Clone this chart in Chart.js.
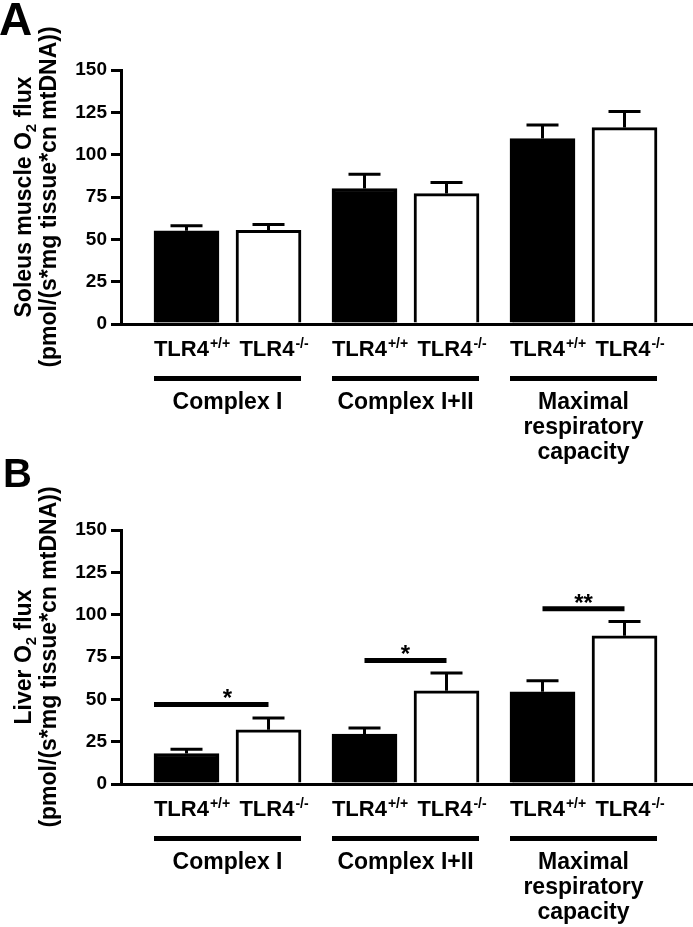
<!DOCTYPE html>
<html>
<head>
<meta charset="utf-8">
<script src="https://cdn.jsdelivr.net/npm/chart.js@4.4.1/dist/chart.umd.min.js"></script>
<style>
  html, body { margin: 0; padding: 0; background: #fff; }
  body { position: relative; width: 693px; height: 927px; overflow: hidden; }
  canvas { position: absolute; left: 0; }
  #chartA { top: 0; }
  #chartB { top: 455px; }
</style>
</head>
<body>
<canvas id="chartA" width="693" height="470"></canvas>
<canvas id="chartB" width="693" height="472"></canvas>
<script>
// --- data ---
const groupLabels = [['Complex I'], ['Complex I+II'], ['Maximal', 'respiratory', 'capacity']];
const genotypes = [{ base: 'TLR4', sup: '+/+' }, { base: 'TLR4', sup: '-/-' }];
const yMax = 150;
const yStep = 25;

const soleusWT = [55, 80, 109.5];
const soleusWTErr = [3, 8.5, 8];
const soleusKO = [55.3, 77, 116];
const soleusKOErr = [3.5, 6.5, 9.5];

const liverWT = [18, 29.5, 54.5];
const liverWTErr = [2.5, 3.5, 6.5];
const liverKO = [32, 55, 87.5];
const liverKOErr = [7, 10.5, 8.5];

const liverSig = [
    { group: 0, level: 47, mark: '*', fromEdge: true },
    { group: 1, level: 73, mark: '*' },
    { group: 2, level: 103.5, mark: '**' },
];

// --- layout ---
const FONT = '"Liberation Sans", Arial, Helvetica, sans-serif';
const PAIR = 0.4607;             // distance between the two bars of a group, in group units
const X_MIN = -0.368, X_MAX = 2.8455;

function font(size) { return `bold ${size}px ${FONT}`; }

function drawGenotype(ctx, cx, y, g) {
    ctx.font = font(22);
    const wb = ctx.measureText(g.base).width;
    ctx.font = font(14);
    const ws = ctx.measureText(g.sup).width;
    const x0 = cx - (wb + ws) / 2 + 5;
    ctx.textAlign = 'left';
    ctx.font = font(22);
    ctx.fillText(g.base, x0, y);
    ctx.font = font(14);
    ctx.fillText(g.sup, x0 + wb + 1, y - 8);
}

function drawYTitle(ctx, xBase, yc, parts) {
    // parts: [text, isSub]
    ctx.save();
    ctx.translate(xBase, yc);
    ctx.rotate(-Math.PI / 2);
    ctx.textAlign = 'left';
    let total = 0;
    parts.forEach(([t, sub]) => { ctx.font = font(sub ? 15 : 23); total += ctx.measureText(t).width; });
    let x = -total / 2;
    parts.forEach(([t, sub]) => {
        ctx.font = font(sub ? 15 : 23);
        ctx.fillText(t, x, sub ? 5 : 0);
        x += ctx.measureText(t).width;
    });
    ctx.restore();
}

function makePanel(id, cfg) {
    const extras = {
        id: 'extras' + id,
        afterDatasetsDraw(chart) {
            const { ctx, scales: { y } } = chart;
            ctx.save();
            ctx.strokeStyle = '#000';
            ctx.lineWidth = 3;
            chart.data.datasets.forEach((ds, i) => {
                chart.getDatasetMeta(i).data.forEach((bar, j) => {
                    const top = y.getPixelForValue(ds.data[j].y + ds.err[j]);
                    ctx.beginPath();
                    ctx.moveTo(bar.x, bar.y);
                    ctx.lineTo(bar.x, top);
                    ctx.moveTo(bar.x - 16, top);
                    ctx.lineTo(bar.x + 16, top);
                    ctx.stroke();
                });
            });
            ctx.restore();
        },
        afterDraw(chart) {
            const { ctx, chartArea, scales: { x, y } } = chart;
            const axisY = chartArea.bottom;
            const wt = chart.getDatasetMeta(0).data;
            const ko = chart.getDatasetMeta(1).data;
            ctx.save();
            ctx.fillStyle = '#000';
            ctx.strokeStyle = '#000';
            ctx.textBaseline = 'alphabetic';

            // panel letter
            ctx.textAlign = 'left';
            ctx.font = font(cfg.letterSize);
            ctx.fillText(cfg.letter, cfg.letterX, cfg.letterY);

            // y title
            const yc = (chartArea.top + chartArea.bottom) / 2;
            drawYTitle(ctx, 31, yc, cfg.title);
            drawYTitle(ctx, 56, yc, [['(pmol/(s*mg tissue*cn mtDNA))', false]]);

            groupLabels.forEach((lines, g) => {
                const c0 = x.getPixelForValue(g);
                const c1 = x.getPixelForValue(g + PAIR);
                drawGenotype(ctx, c0, axisY + 32, genotypes[0]);
                drawGenotype(ctx, c1, axisY + 32, genotypes[1]);

                ctx.lineWidth = 5;
                ctx.beginPath();
                ctx.moveTo(c0 - wt[g].width / 2, axisY + 54.5);
                ctx.lineTo(c1 + ko[g].width / 2, axisY + 54.5);
                ctx.stroke();

                ctx.textAlign = 'center';
                ctx.font = font(23);
                lines.forEach((t, k) => ctx.fillText(t, (c0 + c1) / 2, axisY + 85 + k * 25));
            });

            (cfg.sig || []).forEach(s => {
                const c0 = x.getPixelForValue(s.group);
                const c1 = x.getPixelForValue(s.group + PAIR);
                const ly = y.getPixelForValue(s.level);
                ctx.lineWidth = 5;
                ctx.beginPath();
                ctx.moveTo(s.fromEdge ? c0 - wt[s.group].width / 2 : c0, ly);
                ctx.lineTo(c1, ly);
                ctx.stroke();
                ctx.textAlign = 'center';
                ctx.font = font(24);
                ctx.fillText(s.mark, (c0 + c1) / 2, ly + 2);
            });
            ctx.restore();
        },
    };

    return new Chart(document.getElementById(id), {
        type: 'bar',
        data: {
            datasets: [
                {
                    label: 'TLR4+/+', data: cfg.wt.map((v, g) => ({ x: g, y: v })), err: cfg.wtErr,
                    backgroundColor: '#000', borderColor: '#000', borderWidth: 3, barThickness: 65, grouped: false,
                },
                {
                    label: 'TLR4-/-', data: cfg.ko.map((v, g) => ({ x: g + PAIR, y: v })), err: cfg.koErr,
                    backgroundColor: '#fff', borderColor: '#000', borderWidth: 3, barThickness: 65, grouped: false,
                },
            ],
        },
        options: {
            responsive: false,
            animation: false,
            layout: { padding: { top: cfg.top, left: 0, right: 0, bottom: 0 } },
            plugins: { legend: { display: false }, tooltip: { enabled: false } },
            scales: {
                x: {
                    type: 'linear', min: X_MIN, max: X_MAX, offset: false,
                    ticks: { display: false },
                    grid: { display: false },
                    border: { display: true, width: 3, color: '#000' },
                    afterFit: (s) => { s.height = cfg.below; },
                },
                y: {
                    min: 0, max: yMax,
                    ticks: { stepSize: yStep, color: '#000', padding: 4, font: { family: FONT, size: 19, weight: 'bold' } },
                    grid: { drawOnChartArea: false, color: '#000', lineWidth: 3, tickLength: 10 },
                    border: { display: true, width: 3, color: '#000' },
                    afterFit: (s) => { s.width = 121; },
                },
            },
        },
        plugins: [extras],
    });
}

makePanel('chartA', {
    letter: 'A', letterSize: 46, letterX: -1, letterY: 35,
    title: [['Soleus muscle O', false], ['2', true], [' flux', false]],
    wt: soleusWT, wtErr: soleusWTErr, ko: soleusKO, koErr: soleusKOErr,
    top: 70, below: 146,
});

makePanel('chartB', {
    letter: 'B', letterSize: 40, letterX: 3, letterY: 32,
    title: [['Liver O', false], ['2', true], [' flux', false]],
    wt: liverWT, wtErr: liverWTErr, ko: liverKO, koErr: liverKOErr,
    sig: liverSig,
    top: 75, below: 143,
});
</script>
</body>
</html>
